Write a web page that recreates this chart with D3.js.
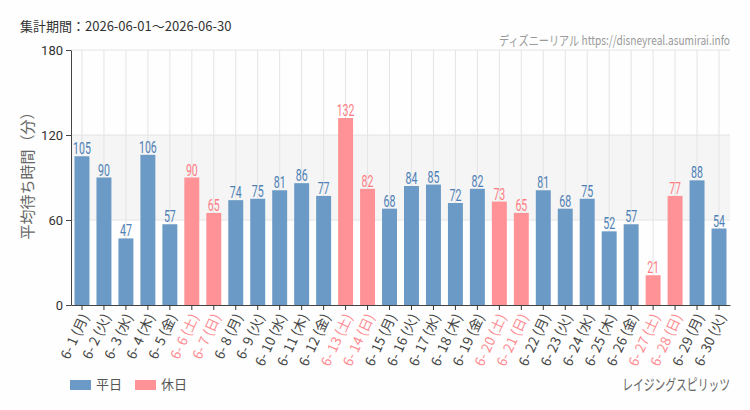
<!DOCTYPE html>
<html>
<head>
<meta charset="utf-8">
<script src="https://cdn.jsdelivr.net/npm/d3@7"></script>
<style>
  body { margin: 0; background: #fdfefd; }
  text { font-family: "Noto Sans CJK JP", "Noto Sans", sans-serif; }
  .num { font-family: "Roboto", "Noto Sans", sans-serif; }
</style>
</head>
<body>
<div class="viz"></div>
<script>
// Data
const days = ["6-1", "6-2", "6-3", "6-4", "6-5", "6-6", "6-7", "6-8", "6-9", "6-10",
  "6-11", "6-12", "6-13", "6-14", "6-15", "6-16", "6-17", "6-18", "6-19", "6-20",
  "6-21", "6-22", "6-23", "6-24", "6-25", "6-26", "6-27", "6-28", "6-29", "6-30"];
const weekdays = ["月", "火", "水", "木", "金", "土", "日", "月", "火", "水",
  "木", "金", "土", "日", "月", "火", "水", "木", "金", "土",
  "日", "月", "火", "水", "木", "金", "土", "日", "月", "火"];
const waits = [105, 90, 47, 106, 57, 90, 65, 74, 75, 81,
  86, 77, 132, 82, 68, 84, 85, 72, 82, 73,
  65, 81, 68, 75, 52, 57, 21, 77, 88, 54];
const holidays = ["6-6", "6-7", "6-13", "6-14", "6-20", "6-21", "6-27", "6-28"];
const yTicks = [0, 60, 120, 180];

const colors = {
  weekday: { bar: "#6a9ac5", text: "#4d80b6", axis: "#444" },
  holiday: { bar: "#ff9296", text: "#ff7c84", axis: "#ff8a90" },
};

const data = days.map((d, i) => ({
  day: d,
  label: `${d.replace("-", "- ")} (${weekdays[i]})`,
  value: waits[i],
  type: holidays.includes(d) ? "holiday" : "weekday",
}));

const totalWidth = 750, totalHeight = 410;
const margin = { top: 50, right: 20, bottom: 105, left: 71 };
const width = totalWidth - margin.left - margin.right;
const height = totalHeight - margin.top - margin.bottom;
const narrow = 0.66; // horizontal squeeze for the condensed-looking texts

const svg = d3.select(".viz").append("svg")
  .attr("width", totalWidth)
  .attr("height", totalHeight);

const g = svg.append("g")
  .attr("transform", `translate(${margin.left},${margin.top})`);

// Scales
const x = d3.scaleBand().domain(days).range([0, width]).paddingInner(0.32).paddingOuter(0.16);
const y = d3.scaleLinear().domain([0, 180]).range([height, 0]);

// Band 60-120
g.append("rect")
  .attr("x", 0)
  .attr("y", y(120))
  .attr("width", width)
  .attr("height", y(60) - y(120))
  .attr("fill", "#f4f5f4");

// Grid lines
g.selectAll(".vgrid")
  .data(days)
  .enter()
  .append("line")
  .attr("x1", (d) => x(d) + x.bandwidth() / 2)
  .attr("x2", (d) => x(d) + x.bandwidth() / 2)
  .attr("y1", 0)
  .attr("y2", height)
  .attr("stroke", "#e4e4e4")
  .attr("stroke-width", 1);

g.selectAll(".hgrid")
  .data(yTicks.filter((t) => t > 0))
  .enter()
  .append("line")
  .attr("x1", 0)
  .attr("x2", width)
  .attr("y1", (d) => y(d))
  .attr("y2", (d) => y(d))
  .attr("stroke", "#e4e4e4")
  .attr("stroke-width", 1);

// Bars
g.selectAll(".bar")
  .data(data)
  .enter()
  .append("rect")
  .attr("x", (d) => x(d.day))
  .attr("y", (d) => y(d.value))
  .attr("width", x.bandwidth())
  .attr("height", (d) => height - y(d.value))
  .attr("fill", (d) => colors[d.type].bar);

// Value labels
g.selectAll(".val")
  .data(data)
  .enter()
  .append("text")
  .attr("class", "num")
  .attr("transform", (d) => `translate(${x(d.day) + x.bandwidth() / 2},${y(d.value) - 2}) scale(${narrow},1)`)
  .attr("text-anchor", "middle")
  .attr("fill", (d) => colors[d.type].text)
  .style("font-size", "16px")
  .text((d) => d.value);

// Y axis
const yAxis = g.append("g")
  .call(d3.axisLeft(y).tickValues(yTicks).tickSize(5).tickSizeOuter(0));
yAxis.select(".domain").attr("stroke", "#444");
yAxis.selectAll(".tick line").attr("stroke", "#444");
yAxis.selectAll(".tick text")
  .attr("fill", "#333")
  .style("font-size", "13px")
  .style("font-family", "Roboto, sans-serif");

// X axis
const xAxis = g.append("g")
  .attr("transform", `translate(0,${height})`)
  .call(d3.axisBottom(x).tickSize(5).tickSizeOuter(0).tickFormat(() => ""));
xAxis.select(".domain").attr("stroke", "#444");
xAxis.selectAll(".tick line").attr("stroke", "#333");

g.selectAll(".xlabel")
  .data(data)
  .enter()
  .append("text")
  .attr("transform", (d) => `translate(${x(d.day) + x.bandwidth() / 2 + 4},${height + 10}) rotate(-65)`)
  .attr("text-anchor", "end")
  .attr("dominant-baseline", "middle")
  .attr("fill", (d) => colors[d.type].axis)
  .style("font-size", "13.5px")
  .text((d) => d.label);

// Y axis title
svg.append("text")
  .attr("transform", `translate(33,${172}) rotate(-90)`)
  .attr("text-anchor", "middle")
  .attr("fill", "#666")
  .style("font-size", "15px")
  .text("平均待ち時間（分）");

// Header
svg.append("text")
  .attr("x", 20)
  .attr("y", 31)
  .attr("fill", "#333")
  .style("font-size", "13px")
  .text("集計期間：2026-06-01～2026-06-30");

svg.append("text")
  .attr("transform", `translate(730,45) scale(0.78,1)`)
  .attr("text-anchor", "end")
  .attr("fill", "#999")
  .style("font-size", "13px")
  .text("ディズニーリアル https://disneyreal.asumirai.info");

// Attraction name
svg.append("text")
  .attr("transform", `translate(730,390) scale(0.72,1)`)
  .attr("text-anchor", "end")
  .attr("fill", "#666")
  .style("font-size", "15px")
  .text("レイジングスピリッツ");

// Legend
const legendData = [
  { label: "平日", type: "weekday" },
  { label: "休日", type: "holiday" },
];
const legend = svg.append("g")
  .attr("transform", "translate(70,380)")
  .selectAll("g")
  .data(legendData)
  .enter()
  .append("g")
  .attr("transform", (d, i) => `translate(${i * 65},0)`);

legend.append("rect")
  .attr("width", 21)
  .attr("height", 10)
  .attr("fill", (d) => colors[d.type].bar);

legend.append("text")
  .attr("x", 26)
  .attr("y", 5)
  .attr("dominant-baseline", "middle")
  .attr("fill", "#555")
  .style("font-size", "13px")
  .text((d) => d.label);
</script>
</body>
</html>
